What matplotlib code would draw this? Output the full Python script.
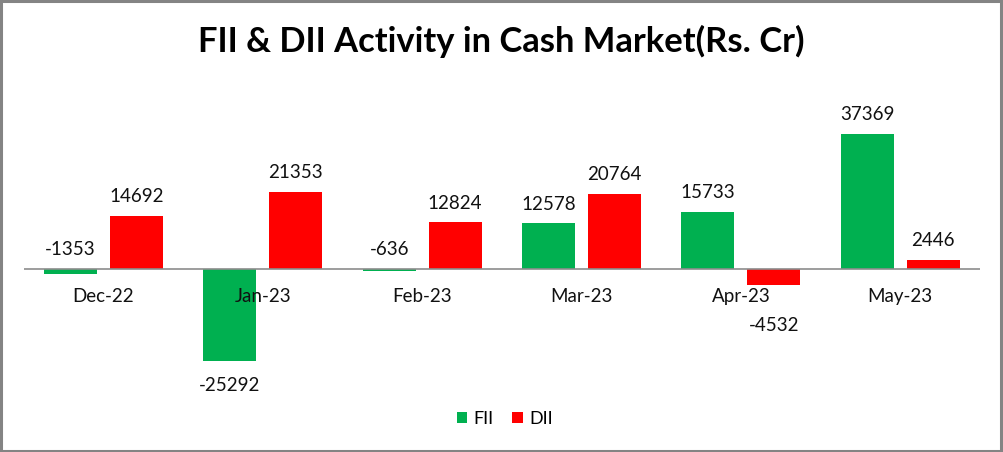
import matplotlib.pyplot as plt
from matplotlib.patches import Rectangle
import numpy as np

plt.rcParams['font.family'] = ['Lato', 'DejaVu Sans']

months = ['Dec-22', 'Jan-23', 'Feb-23', 'Mar-23', 'Apr-23', 'May-23']
fii = [-1353, -25292, -636, 12578, 15733, 37369]
dii = [14692, 21353, 12824, 20764, -4532, 2446]

green = '#00B050'
red = '#FF0000'

fig = plt.figure(figsize=(10.031, 4.521), dpi=100)
ax = fig.add_axes([0.0238, 0.1323, 0.953, 0.6413])

x = np.arange(len(months))
w = 0.333
off = 0.207
ax.bar(x - off, fii, w, color=green, label='FII', zorder=2)
ax.bar(x + off, dii, w, color=red, label='DII', zorder=2)
ax.axhline(0, color='#8c8c8c', lw=1.2, zorder=3)

ax.set_xlim(-0.5, 5.5)
ax.set_ylim(-34000, 46000)
ax.axis('off')

# data labels
for xs, vals in [(x - off, fii), (x + off, dii)]:
    for xi, v in zip(xs, vals):
        if v > -3000:
            ax.annotate(str(v), (xi, max(v, 0)), xytext=(0, 10), textcoords='offset points',
                        ha='center', va='baseline', fontsize=13.5, color='#111111')
        else:
            ax.annotate(str(v), (xi, min(v, -8800)), xytext=(0, -11.5), textcoords='offset points',
                        ha='center', va='top', fontsize=13.5, color='#111111')

# category labels
for xi, m in zip(x, months):
    ax.annotate(m, (xi, 0), xytext=(0, -23.8), textcoords='offset points',
                ha='center', va='baseline', fontsize=13.5, color='#111111', zorder=4)

fig.text(0.5, 0.908, 'FII & DII Activity in Cash Market(Rs. Cr)', ha='center', va='center',
         fontsize=24.8, fontweight='bold')

fig.legend(loc='center', bbox_to_anchor=(0.503, 0.073), ncol=2, frameon=False,
           fontsize=13, handlelength=0.6, handleheight=0.6, handletextpad=0.35,
           columnspacing=1.0)

fig.patches.append(Rectangle((0.001, 0.002), 0.997, 0.995, transform=fig.transFigure,
                             fill=False, edgecolor='#848484', lw=2.2))

fig.savefig('out.png', dpi=100)
